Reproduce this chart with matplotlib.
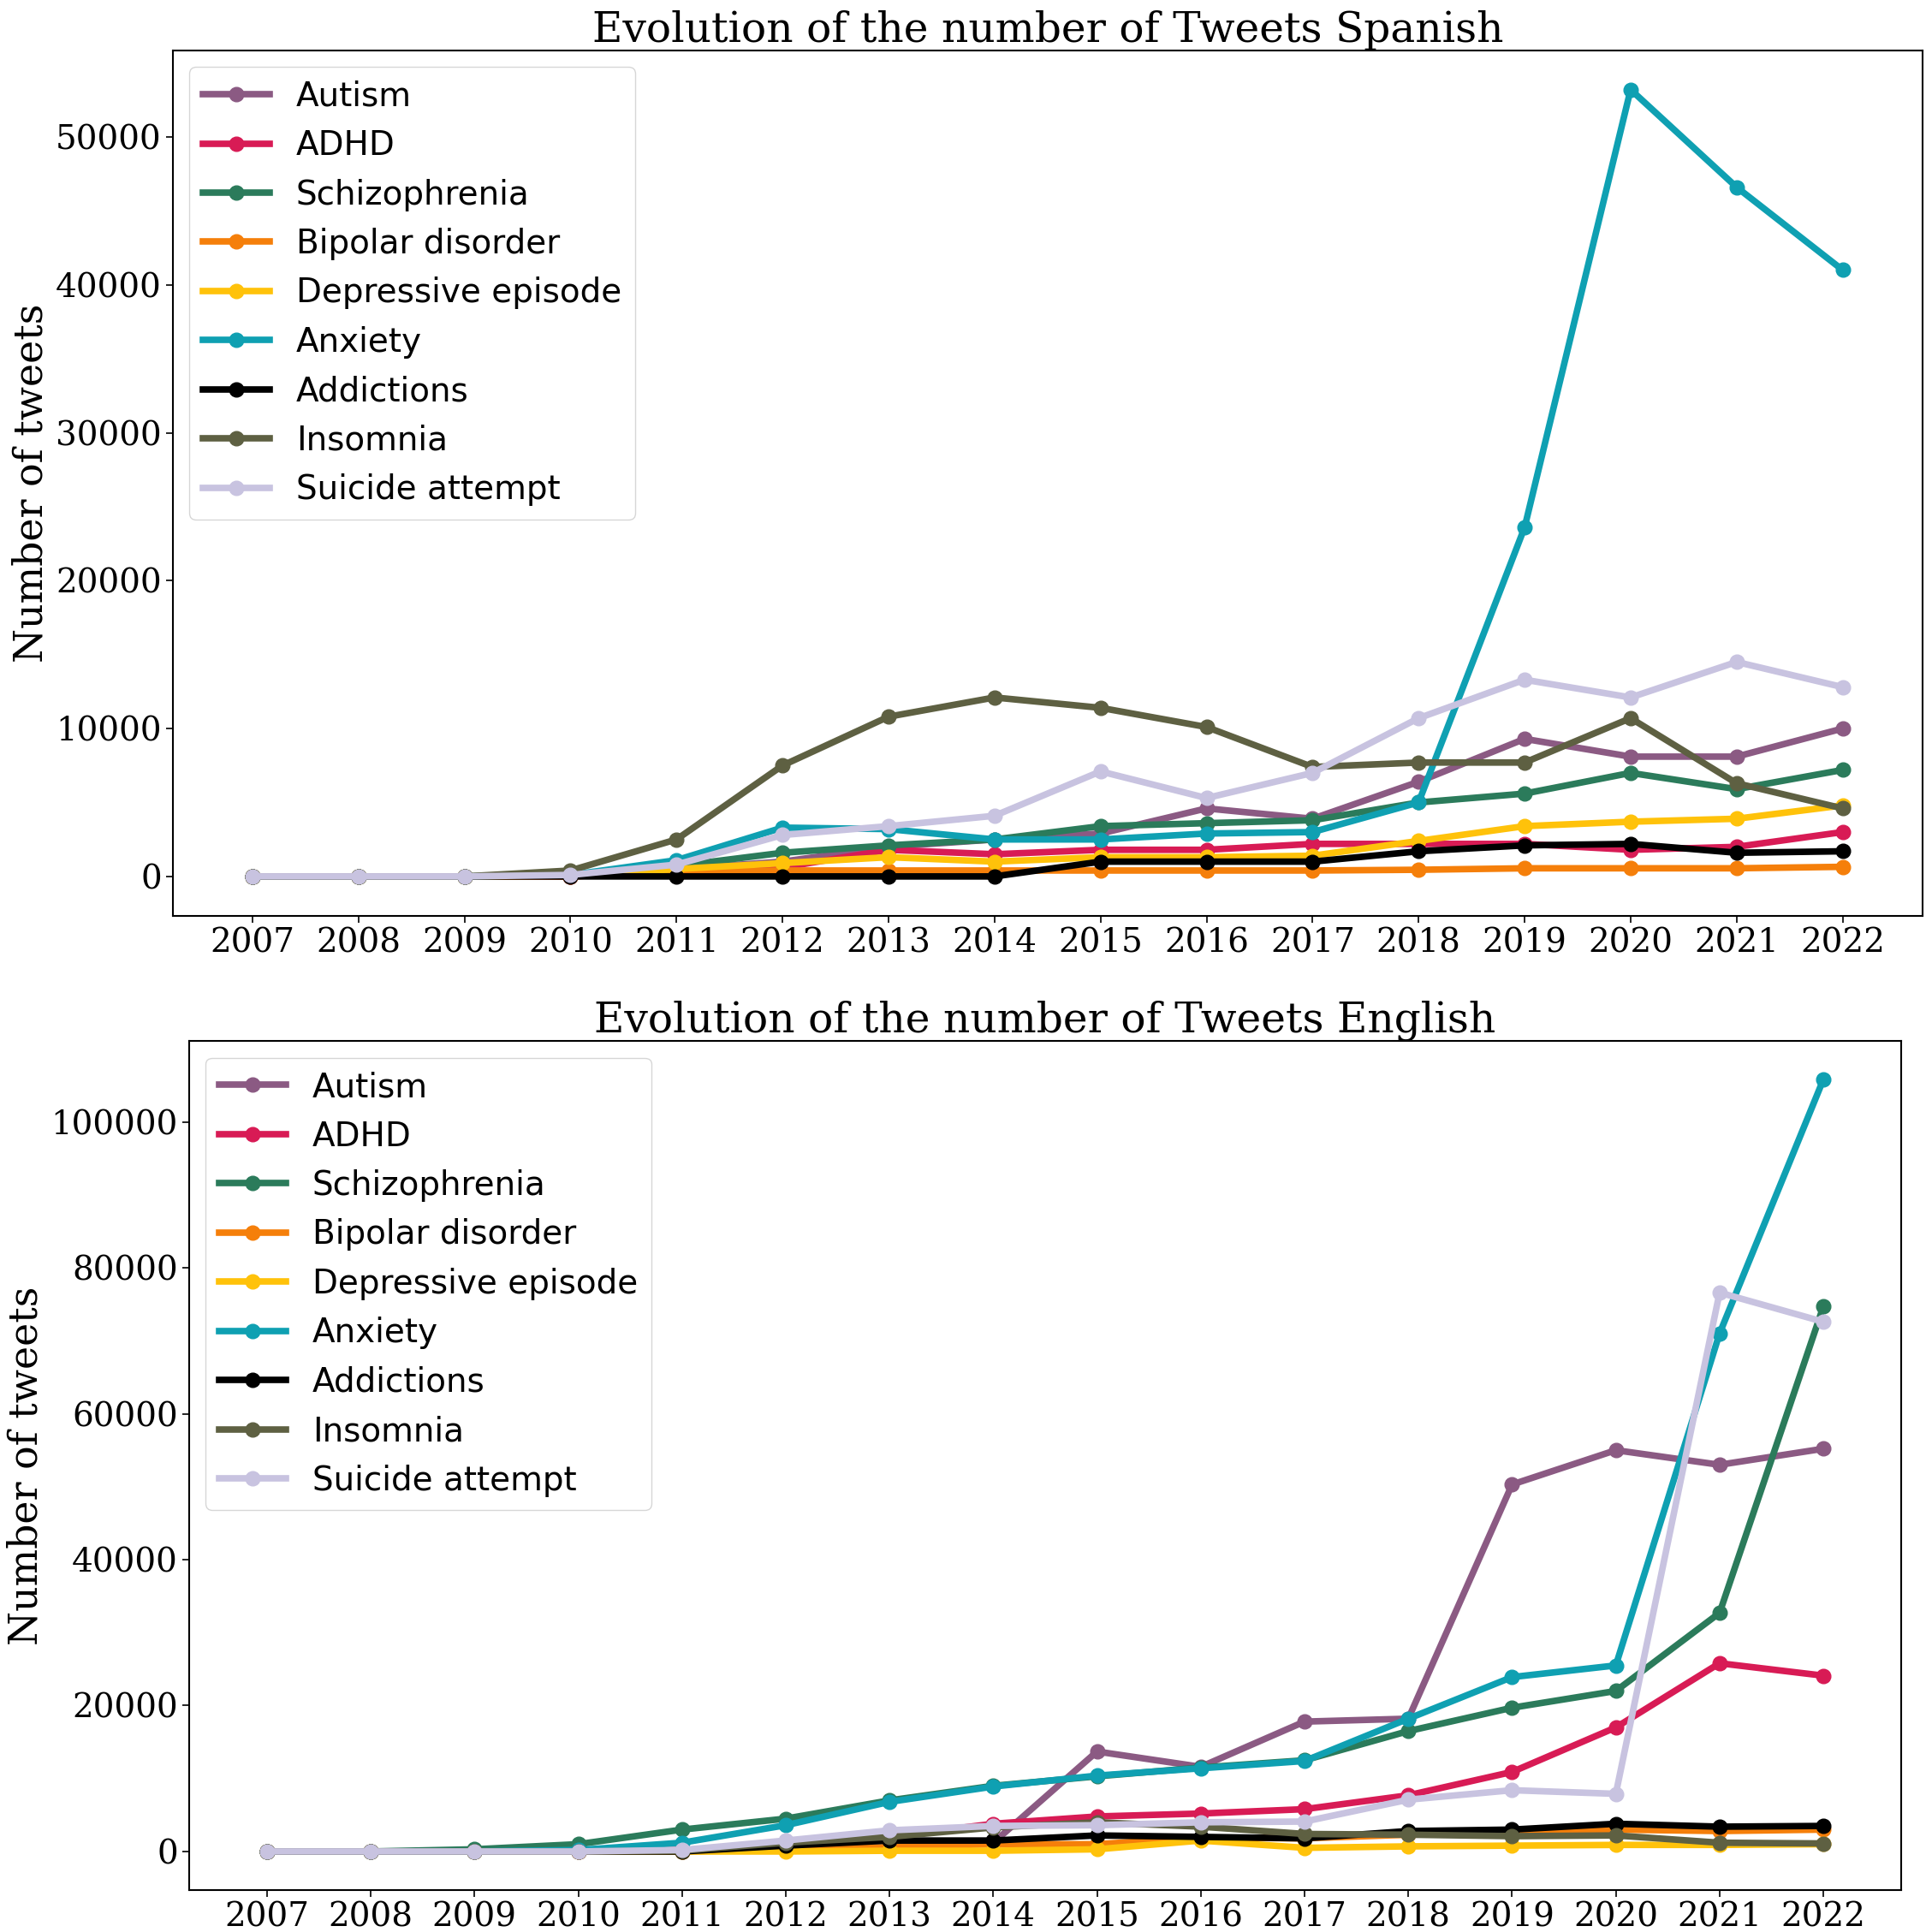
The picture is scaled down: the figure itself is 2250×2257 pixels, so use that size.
import matplotlib.pyplot as plt

years = list(range(2007, 2023))

labels = ["Autism", "ADHD", "Schizophrenia", "Bipolar disorder", "Depressive episode",
          "Anxiety", "Addictions", "Insomnia", "Suicide attempt"]
colors = ["#8B5A83", "#D81B55", "#2B7B5B", "#F57F0A", "#FFC20A",
          "#0FA0B2", "#000000", "#5E6042", "#C8C3E0"]

# Spanish
es_autism = [0, 0, 0, 0, 500, 1000, 2000, 2500, 2900, 4600, 3900, 6400, 9300, 8100, 8100, 10000]
es_adhd = [0, 0, 0, 0, 300, 600, 1800, 1500, 1800, 1800, 2200, 2200, 2200, 1800, 2000, 3000]
es_schizo = [0, 0, 0, 100, 700, 1600, 2100, 2500, 3400, 3600, 3800, 5000, 5600, 7000, 5900, 7200]
es_bipolar = [0, 0, 0, 0, 300, 400, 400, 400, 400, 400, 400, 450, 550, 550, 550, 650]
es_depress = [0, 0, 0, 50, 500, 900, 1300, 1000, 1300, 1300, 1400, 2400, 3400, 3700, 3900, 4800]
es_anxiety = [0, 0, 0, 100, 1100, 3300, 3200, 2500, 2500, 2900, 3000, 5000, 23600, 53200, 46600, 41000]
es_addict = [0, 0, 0, 0, 0, 0, 0, 0, 1000, 1000, 1000, 1700, 2100, 2200, 1600, 1700]
es_insomnia = [0, 0, 0, 400, 2500, 7500, 10800, 12100, 11400, 10100, 7400, 7700, 7700, 10700, 6300, 4600]
es_suicide = [0, 0, 0, 100, 800, 2800, 3400, 4100, 7100, 5300, 7000, 10700, 13300, 12100, 14500, 12800]

# English
en_autism = [0, 0, 0, 0, 0, 1000, 1500, 1200, 13700, 11600, 17800, 18200, 50300, 55000, 53000, 55200]
en_adhd = [0, 0, 0, 0, 200, 800, 2000, 3800, 4800, 5200, 5800, 7700, 10900, 17000, 25800, 24100]
en_schizo = [0, 0, 300, 1000, 3000, 4500, 7000, 9000, 10300, 11500, 12500, 16500, 19700, 22000, 32700, 74700]
en_bipolar = [0, 0, 0, 0, 0, 200, 600, 1000, 1000, 1900, 1800, 2300, 2500, 3000, 2800, 3000]
en_depress = [0, 0, 0, 0, 0, 0, 100, 100, 300, 1500, 500, 700, 800, 900, 900, 1000]
en_anxiety = [0, 0, 0, 200, 1200, 3600, 6800, 8900, 10400, 11400, 12400, 18200, 23900, 25500, 71000, 105800]
en_addict = [0, 0, 0, 0, 0, 800, 1500, 1500, 2200, 2000, 1800, 2800, 3000, 3800, 3400, 3500]
en_insomnia = [0, 0, 0, 0, 100, 1200, 2000, 3300, 4000, 3400, 2400, 2300, 2100, 2200, 1200, 1100]
en_suicide = [0, 0, 0, 0, 200, 1500, 2900, 3500, 3600, 4000, 4100, 7100, 8400, 7900, 76600, 72600]

spanish = [es_autism, es_adhd, es_schizo, es_bipolar, es_depress, es_anxiety, es_addict, es_insomnia, es_suicide]
english = [en_autism, en_adhd, en_schizo, en_bipolar, en_depress, en_anxiety, en_addict, en_insomnia, en_suicide]

fig = plt.figure(figsize=(22.5, 22.57), dpi=100)
ax1 = fig.add_axes([0.0898, 0.526, 0.9082, 0.448])
ax2 = fig.add_axes([0.0982, 0.0217, 0.8889, 0.4395])

for ax, series, title in [(ax1, spanish, "Evolution of the number of Tweets Spanish"),
                          (ax2, english, "Evolution of the number of Tweets English")]:
    for vals, lab, col in zip(series, labels, colors):
        ax.plot(years, vals, marker="o", color=col, label=lab, linewidth=5.5, markersize=12)
    ax.set_xticks(years)
    ax.tick_params(axis="both", length=6, width=1.2)
    ax.set_title(title, family="DejaVu Serif", fontsize=35, pad=6)
    ax.set_ylabel("Number of tweets", family="DejaVu Serif", fontsize=33)
    ax.legend(loc="upper left", fontsize=28, handlelength=2.0, handletextpad=0.8)
    for s in ax.spines.values():
        s.set_linewidth(1.5)

ax1.set_yticks([0, 10000, 20000, 30000, 40000, 50000])
ax2.set_yticks([0, 20000, 40000, 60000, 80000, 100000])
for ax in (ax1, ax2):
    ax.set_xticklabels([str(y) for y in years])
    for t in ax.get_yticklabels() + ax.get_xticklabels():
        t.set_family("DejaVu Serif")
        t.set_fontsize(28)

fig.savefig("out.png", dpi=100)
